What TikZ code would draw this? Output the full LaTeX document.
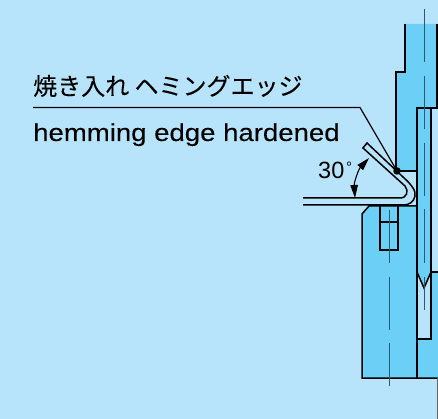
\documentclass[tikz,border=0pt]{standalone}
\usepackage{fontspec}
\setmainfont{Liberation Sans}
\newfontfamily\cjk[FakeBold=0.15]{Noto Sans CJK JP}
\newfontfamily\widesans[FakeStretch=1.125,FakeBold=0.1]{Liberation Sans}
\usetikzlibrary{arrows.meta}
\definecolor{bgblue}{HTML}{B8E4FB}
\definecolor{partblue}{HTML}{6CCFF6}
\definecolor{cline}{HTML}{2A5A72}
\tikzset{
  part/.style={fill=partblue,draw=none},
  edge/.style={draw=black,line width=1.5pt,line join=miter},
  centre/.style={draw=cline,line width=1pt},
  label/.style={inner sep=0pt,anchor=base west,text=black},
}
\begin{document}
\begin{tikzpicture}[x=1pt,y=-1pt]
\useasboundingbox (0,0) rectangle (438,419);
\fill[bgblue] (0,0) rectangle (438,419);
% fills
\path[part] (405,24) -- (437,24) -- (437,108) -- (431,108) -- (431,272) -- (424,288) -- (417,272) -- (417,171) -- (396,171) -- (396,72) -- (405,72) -- cycle;
\path[part] (362,214) -- (369,206) -- (417,206) -- (417,339) -- (431,339) -- (431,272) -- (438,272) -- (438,378) -- (362,378) -- cycle;
% outlines
\draw[edge] (405,24) -- (405,72) -- (396,72) -- (396,171) -- (417,171);
\draw[edge] (437,24) -- (437,108) -- (417,108) -- (417,378);
\draw[edge] (431,108) -- (431,339) -- (417,339);
\draw[edge] (431,272) -- (438,272);
\draw[edge] (417,272) -- (424,288) -- (431,272);
\draw[edge] (417,206) -- (369,206) -- (362,214) -- (362,378) -- (438,378);
\draw[edge] (380,206) -- (380,250) -- (398,250) -- (398,206);
\draw[edge,line width=1.2pt] (380,222) -- (398,222);
\draw[draw=black!60,line width=1pt] (437.6,378) -- (437.6,419);
% centre lines
\draw[centre] (424,9) -- (424,62) (424,76) -- (424,129) (424,143) -- (424,196) (424,209) -- (424,263) (424,277) -- (424,310);
\draw[centre] (389,210) -- (389,263) (389,277) -- (389,330) (389,343) -- (389,386);
% sheet
\path[fill=bgblue,edge] (303,198) -- (400,198) .. controls (407,198) and (409,191) .. (405,186) -- (363,148) -- (367,143) -- (403,177) .. controls (412,185) and (416,191) .. (415,196) .. controls (414,202) and (409,205) .. (403,205) -- (303,205);
% leader
\node[circle,fill=black,minimum size=7.5pt,inner sep=0pt] (dot) at (397,171) {};
\coordinate (leadstart) at (33,107.5);
\coordinate (leadknee) at (360,107.5);
\draw[draw=black,line width=1.2pt] (leadstart) -- (leadknee) -- (dot.center);
% angle
\coordinate (anglea) at (355,198);
\coordinate (angleb) at (369,158);
\draw[draw=black,line width=1.1pt,{Triangle[length=13pt,width=7.5pt]}-{Triangle[length=13pt,width=7.5pt]}] (anglea) .. controls (354,183) and (358,170) .. (angleb);
% text
\node[label,font=\cjk\fontsize{24}{26}\selectfont] (jp) at (33,95) {焼き入れ ヘミングエッジ};
\node[label,font=\widesans\fontsize{24.5}{26}\selectfont] (en) at (33,141) {hemming edge hardened};
\node[label,font=\fontsize{23.5}{24}\selectfont] (deg) at (318,179) {30};
\node[label,font=\fontsize{15}{15}\selectfont] (degs) at (346,173) {°};
\end{tikzpicture}
\end{document}
